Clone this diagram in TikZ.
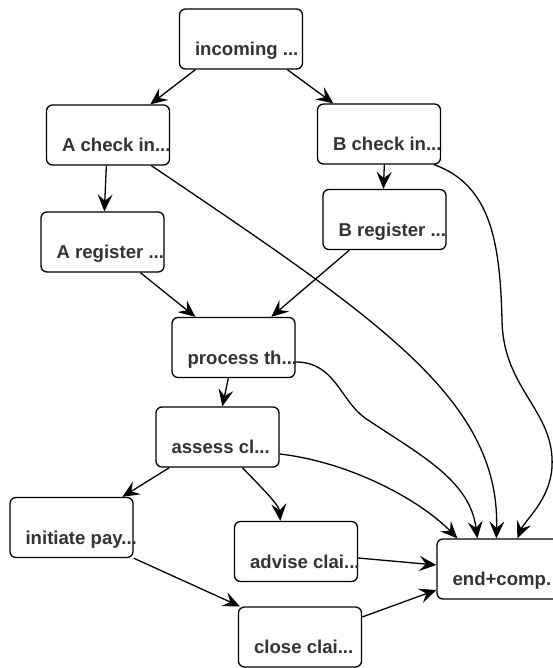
\documentclass[tikz,border=0pt]{standalone}
\usepackage{fontspec}
\setmainfont{Liberation Sans}
\usetikzlibrary{arrows.meta,calc}
\definecolor{txtgray}{HTML}{333333}
\begin{document}
\begin{tikzpicture}[x=1pt,y=-1pt,
  box/.style={draw=black, line width=1.3pt, rounded corners=6pt,
    minimum width=123pt, minimum height=60pt, inner sep=0pt, fill=white},
  txt/.style={anchor=base west, inner sep=0pt, text=txtgray,
    font=\bfseries\fontsize{18.6}{21}\selectfont},
  arr/.style={draw=black, line width=1.3pt,
    -{Stealth[length=17pt,width=15pt,inset=6.5pt]}}]
\useasboundingbox (0,0) rectangle (553,668);
\clip (0,0) rectangle (553,668);

% process steps
\node[box] (inc) at (241,39)    {};
\node[box] (ac)  at (108,135)   {};
\node[box] (bc)  at (379,134)   {};
\node[box] (ar)  at (102.5,242) {};
\node[box] (br)  at (384.5,219.5) {};
\node[box] (pr)  at (233.5,347.5) {};
\node[box] (as)  at (217.5,437) {};
\node[box] (ip)  at (71.5,527.5) {};
\node[box] (ad)  at (296,551.5) {};
\node[box] (ec)  at (498.5,569) {};
\node[box] (cl)  at (300,637)   {};

% step labels, set low in each box
\node[txt] (inc-t) at ($(inc.south west)+(16,-14)$) {incoming ...};
\node[txt] (ac-t)  at ($(ac.south west)+(16,-14)$)  {A check in...};
\node[txt] (bc-t)  at ($(bc.south west)+(16,-14)$)  {B check in...};
\node[txt] (ar-t)  at ($(ar.south west)+(16,-14)$)  {A register ...};
\node[txt] (br-t)  at ($(br.south west)+(16,-14)$)  {B register ...};
\node[txt] (pr-t)  at ($(pr.south west)+(16,-14)$)  {process th...};
\node[txt] (as-t)  at ($(as.south west)+(16,-14)$)  {assess cl...};
\node[txt] (ip-t)  at ($(ip.south west)+(16,-14)$)  {initiate pay...};
\node[txt] (ad-t)  at ($(ad.south west)+(16,-14)$)  {advise clai...};
\node[txt] (ec-t)  at ($(ec.south west)+(16,-14)$)  {end+comp.};
\node[txt] (cl-t)  at ($(cl.south west)+(16,-14)$)  {close clai...};

% straight connectors
\draw[arr] ($(inc.south west)+(16.5,0)$) -- ($(ac.north west)+(104.5,0)$);
\draw[arr] ($(inc.south west)+(108.5,0)$) -- ($(bc.north west)+(16.5,0)$);
\draw[arr] ($(ac.south west)+(60.5,0)$) -- ($(ar.north west)+(64,0)$);
\draw[arr] ($(bc.south west)+(67.5,0)$) -- ($(br.north west)+(61,0)$);
\draw[arr] ($(ar.south west)+(100,0)$) -- ($(pr.north west)+(24,0)$);
\draw[arr] ($(br.south west)+(27,0)$) -- ($(pr.north west)+(100,0)$);
\draw[arr] ($(pr.south west)+(57,0)$) -- ($(as.north west)+(67,0)$);
\draw[arr] ($(as.south west)+(14,0)$) -- ($(ip.north west)+(113,0)$);
\draw[arr] ($(as.south west)+(87,0)$) .. controls (262,488) and (279,505) .. ($(ad.north west)+(46.5,0)$);
\draw[arr] (ip.south east) -- ($(cl.north west)+(2,0)$);
\draw[arr] ($(ad.east)+(0,6.5)$) -- ($(ec.west)+(0,-4)$);
\draw[arr] ($(cl.east)+(0,-20)$) -- ($(ec.west)+(0,21)$);

% long connectors into the final step
\draw[arr] ($(ac.south west)+(105.5,0)$) .. controls (380,320) and (500,400) .. ($(ec.north west)+(60,0)$);
\draw[arr] ($(bc.south east)+(-7,0)$) .. controls (490,185) and (500,240) .. (502,320)
  .. controls (503,390) and (555,410) .. (552,467)
  .. controls (550,500) and (525,520) .. ($(ec.north west)+(81,0)$);
\draw[arr] ($(pr.east)+(0,14.5)$) .. controls (335,362) and (340,400) .. (365,418)
  .. controls (420,455) and (470,480) .. ($(ec.north west)+(41,0)$);
\draw[arr] ($(as.east)+(0,17)$) .. controls (350,462) and (420,500) .. ($(ec.north west)+(21,0)$);
\end{tikzpicture}
\end{document}
